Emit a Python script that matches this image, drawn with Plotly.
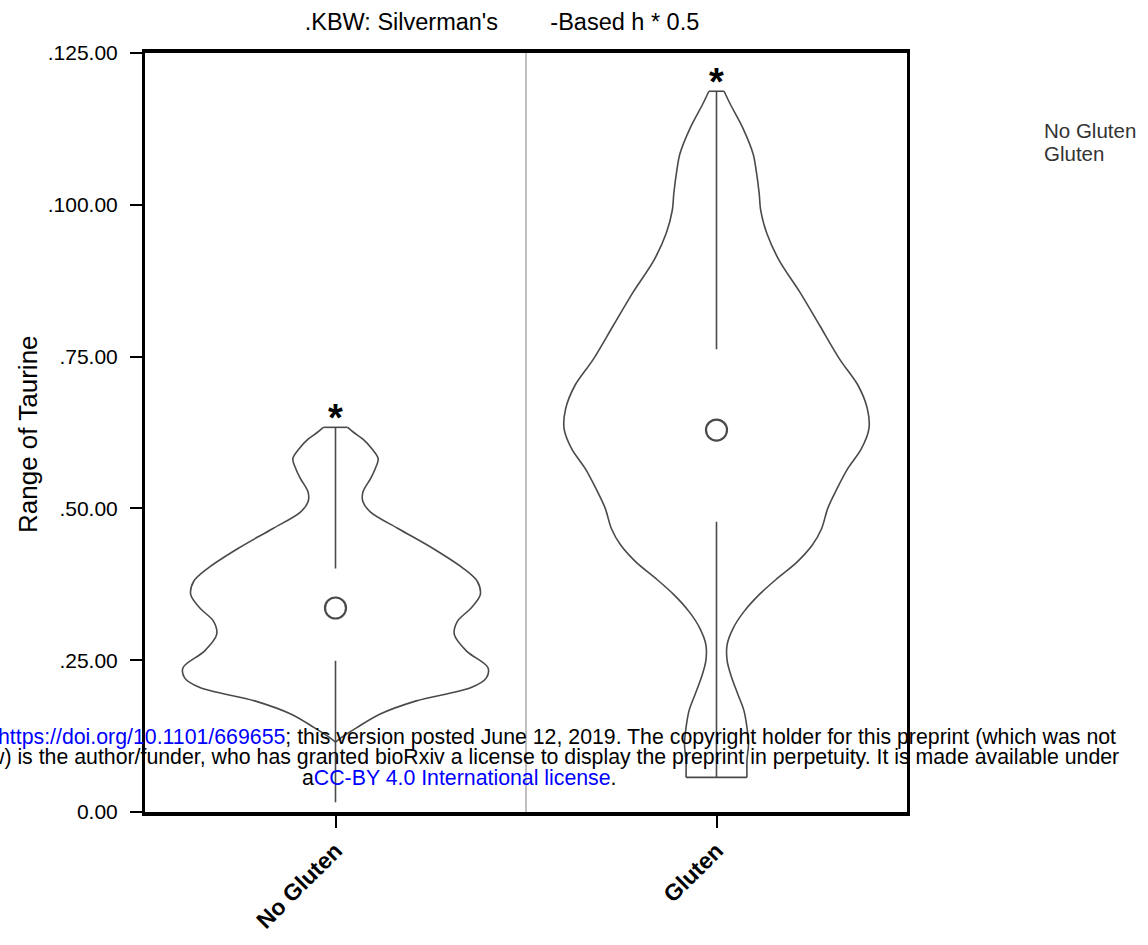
import plotly.graph_objects as go

# ---------------- data ----------------
categories = ["No Gluten", "Gluten"]

# violin outline: value levels and relative density (half-width, 1 = widest)
ng_levels = [11.5, 12.3, 13.9, 16.1, 18.3, 20.5, 22.1, 23.8, 26.5, 29.2, 31.4, 33.6,
             35.8, 38.0, 40.1, 43.4, 46.7, 49.4, 51.1, 52.7, 54.9, 56.5, 58.2,
             59.8, 61.4, 62.5, 63.35]
ng_density = [0.00, 0.04, 0.14, 0.29, 0.53, 0.89, 0.99, 1.00, 0.86, 0.78, 0.80, 0.89,
              0.95, 0.93, 0.84, 0.64, 0.41, 0.23, 0.18, 0.18, 0.23, 0.26, 0.28,
              0.24, 0.18, 0.12, 0.08]

gl_levels = [5.7, 8.5, 11.2, 13.9, 16.7, 19.4, 22.1, 24.9, 27.6, 30.3, 33.0, 35.8,
             38.5, 41.2, 44.0, 46.7, 50.0, 53.2, 56.5, 59.8, 63.1, 66.4, 70.2,
             74.5, 80.0, 85.5, 90.9, 95.3, 99.1, 101.9, 105.7, 108.4, 112.8,
             116.6, 118.7]
gl_density = [0.20, 0.20, 0.21, 0.20, 0.18, 0.14, 0.10, 0.07, 0.07, 0.11, 0.18, 0.28,
              0.40, 0.53, 0.63, 0.69, 0.73, 0.79, 0.86, 0.95, 1.00, 0.99, 0.93,
              0.81, 0.68, 0.55, 0.41, 0.33, 0.29, 0.28, 0.26, 0.24, 0.17,
              0.09, 0.05]

# summary statistics
mins = [1.6, 5.7]
q1s = [24.9, 47.8]
medians = [33.6, 62.9]
q3s = [40.1, 76.2]
maxs = [63.35, 118.7]

y_tick_vals = [0, 25, 50, 75, 100, 125]
y_tick_text = ["0.00", ".25.00", ".50.00", ".75.00", ".100.00", ".125.00"]

legend_labels = ["No Gluten", "Gluten"]

# ---------------- figure ----------------
FONT = "Liberation Sans, Arial, sans-serif"
LINE = "#4a4a4a"
HALF_WIDTH = 0.40

fig = go.Figure()

profiles = [(ng_levels, ng_density), (gl_levels, gl_density)]
for i, (levels, dens) in enumerate(profiles):
    xr = [i + d * HALF_WIDTH for d in dens]
    xl = [i - d * HALF_WIDTH for d in dens]
    # right side (bottom -> top)
    fig.add_trace(go.Scatter(x=xr, y=levels, mode="lines",
                             line=dict(color=LINE, width=1.6, shape="spline", smoothing=0.9),
                             hoverinfo="skip", showlegend=False))
    # left side
    fig.add_trace(go.Scatter(x=xl, y=levels, mode="lines",
                             line=dict(color=LINE, width=1.6, shape="spline", smoothing=0.9),
                             hoverinfo="skip", showlegend=False))
    # flat caps (top and bottom)
    fig.add_trace(go.Scatter(x=[xl[-1], xr[-1], None, xl[0], xr[0]],
                             y=[levels[-1], levels[-1], None, levels[0], levels[0]],
                             mode="lines", line=dict(color=LINE, width=1.6),
                             hoverinfo="skip", showlegend=False))
    # whiskers
    fig.add_trace(go.Scatter(x=[i, i, None, i, i],
                             y=[mins[i], q1s[i], None, q3s[i], maxs[i]],
                             mode="lines", line=dict(color=LINE, width=1.6),
                             showlegend=False, hoverinfo="skip"))

# medians
fig.add_trace(go.Scatter(x=[0, 1], y=medians, mode="markers",
                         marker=dict(symbol="circle-open", size=21,
                                     line=dict(color=LINE, width=2.2), color=LINE),
                         showlegend=False))


def px_x(px):
    return (px - 145) / 762.0


def px_y(py):
    return (815 - py) / 763.0


annotations = []
# asterisks above maxima
for i, m in enumerate(maxs):
    annotations.append(dict(text="<b>*</b>", x=i, y=m, xref="x", yref="y",
                            showarrow=False, xanchor="center", yanchor="bottom",
                            yshift=-14, font=dict(family=FONT, size=38, color="black")))
# y-axis title
annotations.append(dict(text="Range of Taurine", xref="paper", yref="paper",
                        x=px_x(28), y=px_y(435), textangle=-90, showarrow=False,
                        xanchor="center", yanchor="middle",
                        font=dict(family=FONT, size=26, color="black")))
# legend-like labels
for k, lab in enumerate(legend_labels):
    annotations.append(dict(text=lab, xref="paper", yref="paper",
                            x=px_x(1042), y=px_y(130 + 23 * k), showarrow=False,
                            xanchor="left", yanchor="middle",
                            font=dict(family=FONT, size=20.5, color="#333")))
# bioRxiv watermark (visible part)
BLUE = "#0000ff"
wm1 = ("<span style='color:%s'>https://doi.org/10.1101/669655</span>"
       "; this version posted June 12, 2019. The copyright holder for this preprint (which was not") % BLUE
wm2 = ("w) is the author/funder, who has granted bioRxiv a license "
       "to display the preprint in perpetuity. It is made available under")
wm3 = "a<span style='color:%s'>CC-BY 4.0 International license</span>." % BLUE
WM_SIZE = 21.3
annotations.append(dict(text=wm1, xref="paper", yref="paper", x=px_x(1118), y=px_y(740),
                        xanchor="right", yanchor="middle", showarrow=False,
                        font=dict(family=FONT, size=WM_SIZE, color="black")))
annotations.append(dict(text=wm2, xref="paper", yref="paper", x=px_x(1121), y=px_y(760),
                        xanchor="right", yanchor="middle", showarrow=False,
                        font=dict(family=FONT, size=WM_SIZE, color="black")))
annotations.append(dict(text=wm3, xref="paper", yref="paper", x=px_x(459), y=px_y(781),
                        xanchor="center", yanchor="middle", showarrow=False,
                        font=dict(family=FONT, size=WM_SIZE, color="black")))

fig.update_layout(
    width=1148, height=945,
    margin=dict(l=145, r=241, t=53, b=129),
    paper_bgcolor="white", plot_bgcolor="white",
    title=dict(text=".KBW: Silverman's" + "\u00a0" * 8 + "-Based h * 0.5",
               x=502 / 1148, xanchor="center", xref="container",
               y=1 - 22 / 945, yanchor="middle", yref="container",
               font=dict(family=FONT, size=23.5, color="black")),
    showlegend=False,
    annotations=annotations,
    shapes=[dict(type="line", xref="x", yref="paper", x0=0.5, x1=0.5, y0=0, y1=1,
                 line=dict(color="#c0c0c0", width=2), layer="below")],
    xaxis=dict(range=[-0.5, 1.5], tickvals=[0, 1], ticktext=categories,
               tickangle=-45, ticks="outside", ticklen=12, tickwidth=2,
               tickcolor="black", showline=True, linewidth=4, linecolor="black",
               mirror=True, showgrid=False, zeroline=False,
               tickfont=dict(family=FONT, size=23, color="black", weight="bold")),
    yaxis=dict(range=[0, 125], tickvals=y_tick_vals, ticktext=y_tick_text,
               ticks="outside", ticklen=12, tickwidth=2, tickcolor="black",
               ticklabelstandoff=8,
               showline=True, linewidth=3, linecolor="black", mirror=True,
               showgrid=False, zeroline=False,
               tickfont=dict(family=FONT, size=21, color="black")),
)

fig.write_html("out.html")
